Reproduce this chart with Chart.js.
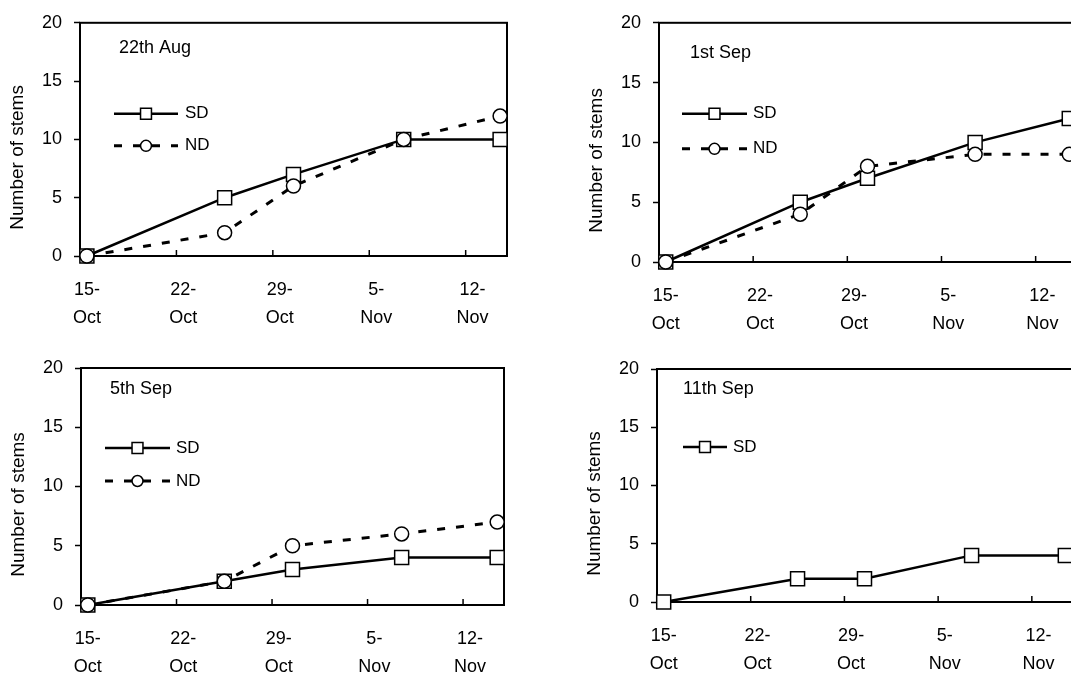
<!DOCTYPE html>
<html>
<head>
<meta charset="utf-8">
<title>Number of stems</title>
<script src="https://cdn.jsdelivr.net/npm/chart.js@4.4.0/dist/chart.umd.min.js"></script>
<style>
  html, body { margin: 0; padding: 0; background: #fff; width: 1071px; height: 675px; overflow: hidden; }
  canvas { position: absolute; }
</style>
</head>
<body>
<canvas id="p1" width="540" height="340" style="left:0px;top:0px"></canvas>
<canvas id="p2" width="530" height="340" style="left:560px;top:0px"></canvas>
<canvas id="p3" width="540" height="335" style="left:0px;top:340px"></canvas>
<canvas id="p4" width="530" height="335" style="left:560px;top:340px"></canvas>
<script>
// sampling dates, as days after 15 Oct
var sampleDays = [0, 10, 15, 23, 30];
var tickDays = [0, 7, 14, 21, 28];
var tickLabels = [["15-", "Oct"], ["22-", "Oct"], ["29-", "Oct"], ["5-", "Nov"], ["12-", "Nov"]];
var yTitle = "Number of stems";

// stem counts per sowing date
var sd22Aug = [0, 5, 7, 10, 10];
var nd22Aug = [0, 2, 6, 10, 12];
var sd1Sep = [0, 5, 7, 10, 12];
var nd1Sep = [0, 4, 8, 9, 9];
var sd5Sep = [0, 2, 3, 4, 4];
var nd5Sep = [0, 2, 5, 6, 7];
var sd11Sep = [0, 2, 2, 4, 4];

var FONT = '"Liberation Sans", Arial, Helvetica, sans-serif';
Chart.defaults.font.family = FONT;
Chart.defaults.color = '#000';

function sdSeries(values) {
  return {
    label: 'SD', order: 1,
    data: sampleDays.map(function (d, i) { return { x: d, y: values[i] }; }),
    borderColor: '#000', borderWidth: 2.5, backgroundColor: '#fff',
    pointStyle: 'rect', pointRadius: 9.9, pointBorderWidth: 1.5,
    pointBackgroundColor: '#fff', pointBorderColor: '#000',
    tension: 0, clip: false
  };
}
function ndSeries(values) {
  return {
    label: 'ND', order: 0,
    data: sampleDays.map(function (d, i) { return { x: d, y: values[i] }; }),
    borderColor: '#000', borderWidth: 3, borderDash: [8, 11], backgroundColor: '#fff',
    pointStyle: 'circle', pointRadius: 7, pointBorderWidth: 1.5,
    pointBackgroundColor: '#fff', pointBorderColor: '#000',
    tension: 0, clip: false
  };
}

function drawMarker(ctx, style, x, y, r) {
  ctx.beginPath();
  if (style === 'rect') {
    var s = r * Math.SQRT1_2;
    ctx.rect(x - s, y - s, 2 * s, 2 * s);
  } else {
    ctx.arc(x, y, r, 0, Math.PI * 2);
  }
  ctx.fill();
  ctx.stroke();
}

// frame, inward date ticks, y title, panel label and in-plot legend
var decor = {
  id: 'decor',
  beforeDatasetsDraw: function (chart, args, o) {
    var a = chart.chartArea, ctx = chart.ctx, xs = chart.scales.x;
    ctx.save();
    ctx.strokeStyle = '#000';
    ctx.lineWidth = 2;
    ctx.strokeRect(a.left, a.top, a.right - a.left, a.bottom - a.top);
    ctx.lineWidth = 1.5;
    xs.ticks.forEach(function (t) {
      var px = xs.getPixelForValue(t.value - 0.5);
      ctx.beginPath();
      ctx.moveTo(px, a.bottom);
      ctx.lineTo(px, a.bottom - 6);
      ctx.stroke();
    });
    ctx.fillStyle = '#000';
    ctx.font = '19px ' + FONT;
    ctx.textAlign = 'center';
    ctx.textBaseline = 'middle';
    ctx.translate(a.left - 62, (a.top + a.bottom) / 2 + 18);
    ctx.rotate(-Math.PI / 2);
    ctx.fillText(yTitle, 0, 0);
    ctx.restore();
  },
  afterDatasetsDraw: function (chart, args, o) {
    var a = chart.chartArea, ctx = chart.ctx;
    ctx.save();
    ctx.fillStyle = '#000';
    ctx.textAlign = 'left';
    ctx.textBaseline = 'middle';
    ctx.font = '18px ' + FONT;
    ctx.fillText(o.label, a.left + o.labelX, a.top + o.labelY);

    ctx.font = '17px ' + FONT;
    var leg = o.legend;
    chart.data.datasets.forEach(function (ds, i) {
      var y = a.top + leg.y + i * leg.rowGap;
      var x0 = a.left + leg.x, x1 = x0 + leg.len;
      ctx.strokeStyle = '#000';
      ctx.lineWidth = ds.borderWidth;
      ctx.setLineDash(ds.borderDash || []);
      ctx.beginPath();
      ctx.moveTo(x0, y);
      ctx.lineTo(x1, y);
      ctx.stroke();
      ctx.setLineDash([]);
      ctx.lineWidth = 1.5;
      ctx.fillStyle = '#fff';
      drawMarker(ctx, ds.pointStyle, (x0 + x1) / 2, y, ds.pointRadius * 0.78);
      ctx.fillStyle = '#000';
      ctx.fillText(ds.label, a.left + leg.textX, y);
    });
    ctx.restore();
  }
};

function makePanel(id, datasets, box, decorOpts) {
  var cv = document.getElementById(id);
  var W = cv.width, H = cv.height;
  return new Chart(cv, {
    type: 'line',
    data: { datasets: datasets },
    plugins: [decor],
    options: {
      responsive: false,
      animation: false,
      events: [],
      layout: { padding: { left: 0, top: box.top, right: W - box.right, bottom: 0 } },
      plugins: { legend: { display: false }, tooltip: { enabled: false }, decor: decorOpts },
      scales: {
        x: {
          type: 'linear', min: -0.5, max: 30.5,
          afterBuildTicks: function (s) { s.ticks = tickDays.map(function (v) { return { value: v }; }); },
          afterFit: function (s) { s.height = H - box.bottom; },
          grid: { display: false },
          border: { display: false },
          ticks: {
            autoSkip: false, maxRotation: 0, minRotation: 0, padding: 12,
            font: { size: 18, lineHeight: 1.556 },
            callback: function (v, i) { return tickLabels[i]; }
          }
        },
        y: {
          min: 0, max: 20,
          afterFit: function (s) { s.width = box.left; },
          grid: { display: true, drawOnChartArea: false, tickLength: 6, tickColor: '#000', tickWidth: 1.5 },
          border: { display: false },
          ticks: { stepSize: 5, padding: 12, font: { size: 18 } }
        }
      }
    }
  });
}

makePanel('p1', [sdSeries(sd22Aug), ndSeries(nd22Aug)],
  { left: 80, right: 507, top: 17, bottom: 256 },
  { label: '22th Aug', labelX: 39, labelY: 25, legend: { x: 34, len: 64, y: 91, rowGap: 32, textX: 105 } });

makePanel('p2', [sdSeries(sd1Sep), ndSeries(nd1Sep)],
  { left: 99, right: 516, top: 17, bottom: 262 },
  { label: '1st Sep', labelX: 31, labelY: 30, legend: { x: 23, len: 65, y: 91, rowGap: 35, textX: 94 } });

makePanel('p3', [sdSeries(sd5Sep), ndSeries(nd5Sep)],
  { left: 81, right: 504, top: 28, bottom: 265 },
  { label: '5th Sep', labelX: 29, labelY: 21, legend: { x: 24, len: 65, y: 80, rowGap: 33, textX: 95 } });

makePanel('p4', [sdSeries(sd11Sep)],
  { left: 97, right: 512, top: 29, bottom: 262 },
  { label: '11th Sep', labelX: 26, labelY: 20, legend: { x: 26, len: 44, y: 78, rowGap: 33, textX: 76 } });
</script>
</body>
</html>
